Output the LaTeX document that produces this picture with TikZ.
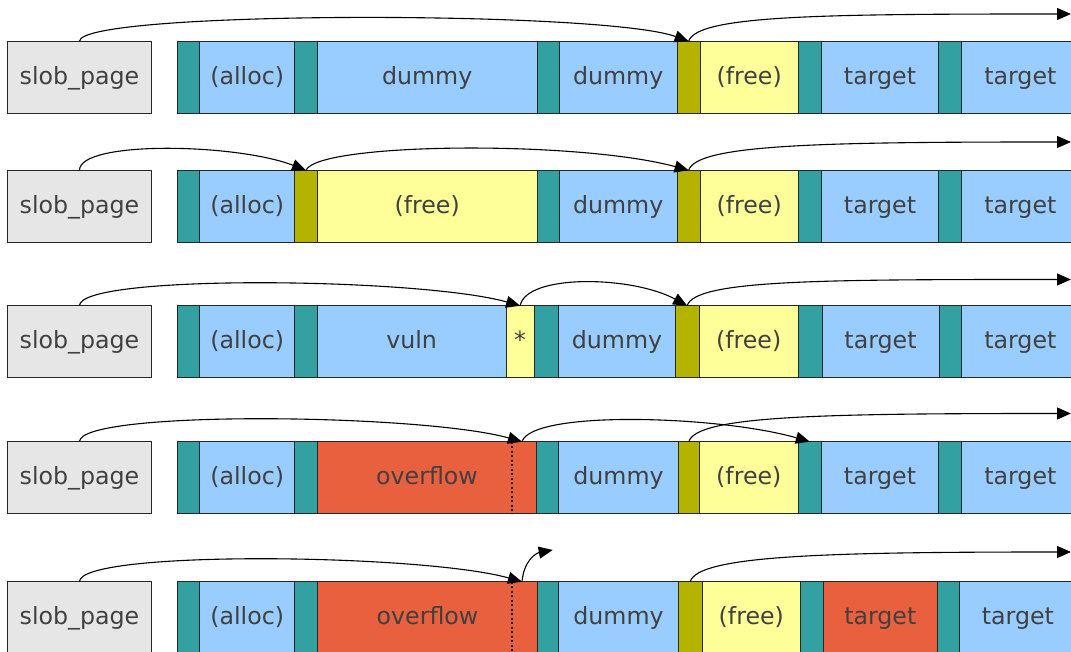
\documentclass[tikz,border=0pt]{standalone}
\usepackage{fontspec}
\setmainfont{DejaVu Sans}
\usetikzlibrary{arrows.meta,calc}
\definecolor{cgray}{HTML}{E6E6E6}
\definecolor{cteal}{HTML}{33A1A1}
\definecolor{cblue}{HTML}{99CCFF}
\definecolor{colive}{HTML}{B3B300}
\definecolor{cyel}{HTML}{FFFF99}
\definecolor{cred}{HTML}{E9603F}
\definecolor{ctext}{HTML}{404040}
\newcommand\mkcell[6]{%
  \pgfmathsetmacro\mycw{#3-#2}%
  \node[blk,fill=#5,minimum width=\mycw pt] (#1) at (#2,#4) {#6};}
\begin{document}
\begin{tikzpicture}[x=1pt,y=1pt,
  blk/.style={draw=black!85,line width=0.9pt,minimum height=72pt,inner sep=0pt,outer sep=0pt,
    anchor=north west,text=ctext,font=\fontsize{23.7}{28}\selectfont,text height=18.5pt,text depth=4.5pt},
  arr/.style={draw=black,line width=1.1pt,-{Triangle[length=14pt,width=12pt]}},
  ovl/.style={draw=black,line width=2pt,dash pattern=on 2pt off 2.5pt}]
\useasboundingbox (0,0) rectangle (1071,652);
\clip (0,0) rectangle (1071,652);
% row 1
\mkcell{s1}{7.3}{151.7}{610.7}{cgray}{slob\_page}
\mkcell{h1a}{177.3}{199.7}{610.7}{cteal}{}
\mkcell{c1a}{199.7}{294.7}{610.7}{cblue}{(alloc)}
\mkcell{h1b}{294.7}{317.3}{610.7}{cteal}{}
\mkcell{c1b}{317.3}{537}{610.7}{cblue}{dummy}
\mkcell{h1c}{537}{559}{610.7}{cteal}{}
\mkcell{c1c}{559}{677.3}{610.7}{cblue}{dummy}
\mkcell{o1}{677.3}{700}{610.7}{colive}{}
\mkcell{f1}{700}{798.3}{610.7}{cyel}{(free)}
\mkcell{h1e}{798.3}{821.3}{610.7}{cteal}{}
\mkcell{c1e}{821.3}{938.7}{610.7}{cblue}{target}
\mkcell{h1f}{938.7}{961.7}{610.7}{cteal}{}
\mkcell{c1f}{961.7}{1079}{610.7}{cblue}{target}
% row 2
\mkcell{s2}{7.3}{151.7}{481.7}{cgray}{slob\_page}
\mkcell{h2a}{177.3}{199.7}{481.7}{cteal}{}
\mkcell{c2a}{199.7}{294.7}{481.7}{cblue}{(alloc)}
\mkcell{o2a}{294.7}{317.3}{481.7}{colive}{}
\mkcell{f2a}{317.3}{537}{481.7}{cyel}{(free)}
\mkcell{h2c}{537}{559}{481.7}{cteal}{}
\mkcell{c2c}{559}{677.3}{481.7}{cblue}{dummy}
\mkcell{o2b}{677.3}{700}{481.7}{colive}{}
\mkcell{f2b}{700}{798.3}{481.7}{cyel}{(free)}
\mkcell{h2e}{798.3}{821.3}{481.7}{cteal}{}
\mkcell{c2e}{821.3}{938.7}{481.7}{cblue}{target}
\mkcell{h2f}{938.7}{961.7}{481.7}{cteal}{}
\mkcell{c2f}{961.7}{1079}{481.7}{cblue}{target}
% row 3
\mkcell{s3}{7.3}{151.7}{346.3}{cgray}{slob\_page}
\mkcell{h3a}{177.3}{199.7}{346.3}{cteal}{}
\mkcell{c3a}{199.7}{294.7}{346.3}{cblue}{(alloc)}
\mkcell{h3b}{294.7}{317.3}{346.3}{cteal}{}
\mkcell{c3b}{317.3}{506}{346.3}{cblue}{vuln}
\mkcell{st3}{506}{534.3}{346.3}{cyel}{*}
\mkcell{h3c}{534.3}{558.7}{346.3}{cteal}{}
\mkcell{c3c}{558.7}{675.3}{346.3}{cblue}{dummy}
\mkcell{o3}{675.3}{699}{346.3}{colive}{}
\mkcell{f3}{699}{798.3}{346.3}{cyel}{(free)}
\mkcell{h3e}{798.3}{822}{346.3}{cteal}{}
\mkcell{c3e}{822}{939}{346.3}{cblue}{target}
\mkcell{h3f}{939}{961.7}{346.3}{cteal}{}
\mkcell{c3f}{961.7}{1079}{346.3}{cblue}{target}
% row 4
\mkcell{s4}{7.3}{151.7}{210.3}{cgray}{slob\_page}
\mkcell{h4a}{177.3}{199.7}{210.3}{cteal}{}
\mkcell{c4a}{199.7}{294.7}{210.3}{cblue}{(alloc)}
\mkcell{h4b}{294.7}{317.3}{210.3}{cteal}{}
\mkcell{ov4}{317.3}{536.7}{210.3}{cred}{overflow}
\mkcell{h4c}{536.7}{558.7}{210.3}{cteal}{}
\mkcell{c4c}{558.7}{678.3}{210.3}{cblue}{dummy}
\mkcell{o4}{678.3}{699.3}{210.3}{colive}{}
\mkcell{f4}{699.3}{798.3}{210.3}{cyel}{(free)}
\mkcell{h4e}{798.3}{821.3}{210.3}{cteal}{}
\mkcell{c4e}{821.3}{938.7}{210.3}{cblue}{target}
\mkcell{h4f}{938.7}{961.7}{210.3}{cteal}{}
\mkcell{c4f}{961.7}{1079}{210.3}{cblue}{target}
% row 5
\mkcell{s5}{7.3}{151.7}{70.3}{cgray}{slob\_page}
\mkcell{h5a}{177.3}{199.7}{70.3}{cteal}{}
\mkcell{c5a}{199.7}{294.7}{70.3}{cblue}{(alloc)}
\mkcell{h5b}{294.7}{317.3}{70.3}{cteal}{}
\mkcell{ov5}{317.3}{537.7}{70.3}{cred}{overflow}
\mkcell{h5c}{537.7}{558.7}{70.3}{cteal}{}
\mkcell{c5c}{558.7}{678.3}{70.3}{cblue}{dummy}
\mkcell{o5}{678.3}{702}{70.3}{colive}{}
\mkcell{f5}{702}{800.7}{70.3}{cyel}{(free)}
\mkcell{h5e}{800.7}{823.3}{70.3}{cteal}{}
\mkcell{c5e}{823.3}{937.3}{70.3}{cred}{target}
\mkcell{h5f}{937.3}{959.3}{70.3}{cteal}{}
\mkcell{c5f}{959.3}{1076.6}{70.3}{cblue}{target}
% overflow marks
\draw[ovl] ($(ov4.north west)+(194.4,0)$) -- ($(ov4.south west)+(194.4,0)$);
\draw[ovl] ($(ov5.north west)+(194.4,0)$) -- ($(ov5.south west)+(194.4,0)$);
% free ends
\coordinate (e1) at (1071,638);
\coordinate (e2) at (1071,510);
\coordinate (e3) at (1071,372.5);
\coordinate (e4) at (1071,238.5);
\coordinate (e5) at (1071,100);
\coordinate (e5b) at (552.7,102);
\coordinate (ptr4) at (522,210.3);
\coordinate (ptr5) at (522,70.3);
% row 1 links
\draw[arr] (s1.north) .. controls ($(s1.north)+(0,31)$) and ($(o1.north)+(-85,31)$) .. (o1.north);
\draw[arr] (o1.north) .. controls ($(o1.north)+(8,26)$) and ($(e1)+(-250,0)$) .. (e1);
% row 2 links
\draw[arr] (s2.north) .. controls ($(s2.north)+(0,30)$) and ($(o2a.north)+(-70,27)$) .. (o2a.north);
\draw[arr] (o2a.north) .. controls ($(o2a.north)+(12,28)$) and ($(o2b.north)+(-110,30)$) .. (o2b.north);
\draw[arr] (o2b.north) .. controls ($(o2b.north)+(8,26)$) and ($(e2)+(-250,0)$) .. (e2);
% row 3 links
\draw[arr] (s3.north) .. controls ($(s3.north)+(0,32)$) and ($(st3.north)+(-100,28)$) .. (st3.north);
\draw[arr] (st3.north) .. controls ($(st3.north)+(6,32)$) and ($(o3.north)+(-55,30)$) .. (o3.north);
\draw[arr] (o3.north) .. controls ($(o3.north)+(8,26)$) and ($(e3)+(-250,0)$) .. (e3);
% row 4 links
\draw[arr] (s4.north) .. controls ($(s4.north)+(0,32)$) and ($(ptr4)+(-100,28)$) .. (ptr4);
\draw[arr] (ptr4) .. controls ($(ptr4)+(10,32)$) and ($(h4e.north)+(-90,26)$) .. (h4e.north);
\draw[arr] (o4.north) .. controls ($(o4.north)+(8,26)$) and ($(e4)+(-250,0)$) .. (e4);
% row 5 links
\draw[arr] (s5.north) .. controls ($(s5.north)+(0,32)$) and ($(ptr5)+(-100,28)$) .. (ptr5);
\draw[arr] (ptr5) .. controls ($(ptr5)+(2,22)$) and ($(e5b)+(-16,-3)$) .. (e5b);
\draw[arr] (o5.north) .. controls ($(o5.north)+(8,26)$) and ($(e5)+(-250,0)$) .. (e5);
\end{tikzpicture}
\end{document}
